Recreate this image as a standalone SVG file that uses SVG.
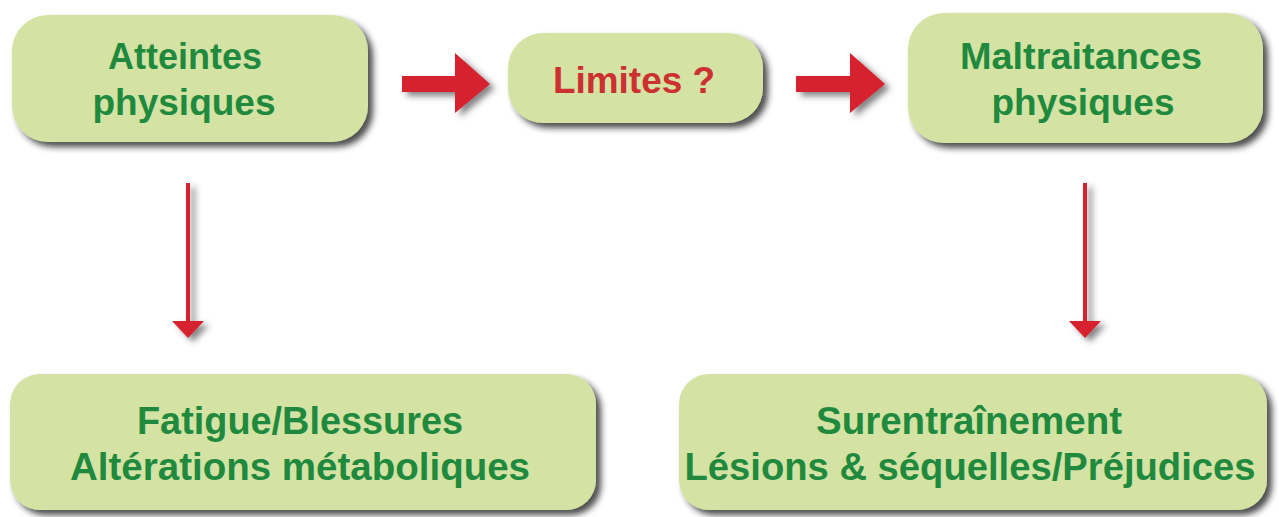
<svg xmlns="http://www.w3.org/2000/svg" width="1279" height="517" viewBox="0 0 1279 517">
<defs>
<filter id="sh" x="-10%" y="-10%" width="125%" height="130%">
<feDropShadow dx="5" dy="5" stdDeviation="3" flood-color="#222" flood-opacity="0.8"/>
</filter>
<filter id="sha" x="-20%" y="-20%" width="150%" height="150%">
<feDropShadow dx="5" dy="4" stdDeviation="3" flood-color="#333" flood-opacity="0.6"/>
</filter>
</defs>
<style>
.box{fill:#d4e3a4;filter:url(#sh);}
.t{font-family:"Liberation Sans",Arial,sans-serif;font-weight:bold;fill:#1f8a3e;text-anchor:middle;}
.r{fill:#d6232e;}
.tr{font-family:"Liberation Sans",Arial,sans-serif;font-weight:bold;fill:#cc3030;text-anchor:middle;}
</style>
<rect width="1279" height="517" fill="#ffffff"/>
<g id="connectors">
<polygon class="r" filter="url(#sha)" points="402,76 455,76 455,53 490,84 455,113 455,92 402,92"/>
<polygon class="r" filter="url(#sha)" points="796,76 850,76 850,53 885,84 850,113 850,92 796,92"/>
<g filter="url(#sha)">
<rect class="r" x="186" y="183" width="4" height="140"/>
<polygon class="r" points="172,321 204,321 188,338"/>
</g>
<g filter="url(#sha)">
<rect class="r" x="1083" y="183" width="4" height="140"/>
<polygon class="r" points="1069,321 1101,321 1085,338"/>
</g>
</g>
<g id="n-atteintes">
<rect class="box" x="12" y="15" width="356" height="127" rx="36"/>
<text class="t" x="185" y="69" font-size="36">Atteintes</text>
<text class="t" x="184" y="115" font-size="37">physiques</text>
</g>
<g id="n-limites">
<rect class="box" x="508" y="33" width="255" height="90" rx="35"/>
<text class="tr" x="634" y="93" font-size="36" textLength="162" lengthAdjust="spacingAndGlyphs">Limites ?</text>
</g>
<g id="n-maltraitances">
<rect class="box" x="908" y="13" width="355" height="130" rx="36"/>
<text class="t" x="1081" y="69" font-size="37" textLength="242" lengthAdjust="spacingAndGlyphs">Maltraitances</text>
<text class="t" x="1083" y="115" font-size="37">physiques</text>
</g>
<g id="n-fatigue">
<rect class="box" x="10" y="374" width="586" height="136" rx="30"/>
<text class="t" x="300" y="434" font-size="38" textLength="326" lengthAdjust="spacingAndGlyphs">Fatigue/Blessures</text>
<text class="t" x="300" y="480" font-size="38" textLength="460" lengthAdjust="spacingAndGlyphs">Altérations métaboliques</text>
</g>
<g id="n-surentrainement">
<rect class="box" x="679" y="374" width="588" height="136" rx="30"/>
<text class="t" x="969" y="434" font-size="38" textLength="306" lengthAdjust="spacingAndGlyphs">Surentraînement</text>
<text class="t" x="970" y="480" font-size="38" textLength="571" lengthAdjust="spacingAndGlyphs">Lésions &amp; séquelles/Préjudices</text>
</g>
</svg>
